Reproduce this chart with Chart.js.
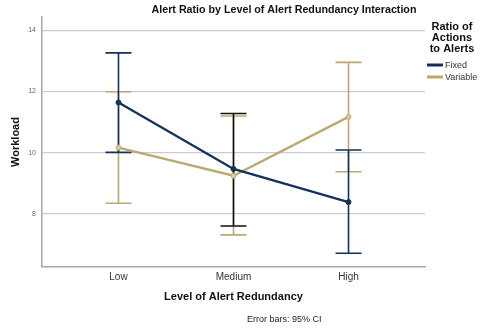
<!DOCTYPE html>
<html>
<head>
<meta charset="utf-8">
<script src="https://cdn.jsdelivr.net/npm/chart.js@4"></script>
<style>
  html, body { margin: 0; padding: 0; background: #fff; }
  #wrap { width: 480px; height: 330px; }
</style>
</head>
<body>
<div id="wrap"><canvas id="chart" width="480" height="330"></canvas></div>
<script>
var categories = ['Low', 'Medium', 'High'];
var yTicks = [8, 10, 12, 14];

var fixedMean = [11.64, 9.47, 8.39];
var fixedLow = [10.01, 7.61, 6.72];
var fixedHigh = [13.26, 11.28, 10.09];

var variableMean = [10.17, 9.25, 11.17];
var variableLow = [8.35, 7.32, 9.38];
var variableHigh = [11.99, 11.2, 12.95];

var NAVY = '#13315c';
var TAN = '#bba970';
var FONT = '"Liberation Sans", Arial, sans-serif';

function points(vals) {
    return vals.map(function(v, i) { return {x: i, y: v}; });
}

// 95% CI whiskers, drawn through the chart scales (under the mean lines)
var errorBars = {
    id: 'errorBars',
    beforeDatasetsDraw: function(chart) {
        var ctx = chart.ctx;
        var xs = chart.scales.x, ys = chart.scales.y;
        chart.data.datasets.slice().reverse().forEach(function(ds) {
            ds.data.forEach(function(p, i) {
                var x = xs.getPixelForValue(p.x);
                var y1 = ys.getPixelForValue(ds.ciLow[i]);
                var y2 = ys.getPixelForValue(ds.ciHigh[i]);
                ctx.save();
                ctx.strokeStyle = ds.barColors[i];
                ctx.lineWidth = 1.6;
                ctx.beginPath();
                ctx.moveTo(x, y1); ctx.lineTo(x, y2);
                ctx.moveTo(x - 13, y1); ctx.lineTo(x + 13, y1);
                ctx.moveTo(x - 13, y2); ctx.lineTo(x + 13, y2);
                ctx.stroke();
                ctx.restore();
            });
        });
    }
};

// title, legend and footnote
var texts = {
    id: 'texts',
    afterDraw: function(chart) {
        var ctx = chart.ctx;
        ctx.save();
        ctx.fillStyle = '#111';
        ctx.textBaseline = 'middle';
        ctx.textAlign = 'center';
        ctx.font = 'bold 10.7px ' + FONT;
        ctx.fillText('Alert Ratio by Level of Alert Redundancy Interaction', 284, 10);
        ctx.font = 'bold 11px ' + FONT;
        ['Ratio of', 'Actions', 'to Alerts'].forEach(function(t, i) {
            ctx.fillText(t, 452, 27 + i * 11);
        });
        ctx.textAlign = 'left';
        ctx.font = '9px ' + FONT;
        chart.data.datasets.forEach(function(ds, i) {
            var y = 65 + i * 12;
            ctx.strokeStyle = ds.borderColor;
            ctx.lineWidth = 3;
            ctx.beginPath();
            ctx.moveTo(427, y); ctx.lineTo(443, y);
            ctx.stroke();
            ctx.fillStyle = '#333';
            ctx.fillText(ds.label, 445, y + 0.5);
        });
        ctx.fillStyle = '#222';
        ctx.font = '9px ' + FONT;
        ctx.fillText('Error bars: 95% CI', 247, 320);
        ctx.restore();
    }
};

new Chart(document.getElementById('chart'), {
    type: 'scatter',
    data: {
        datasets: [{
            label: 'Fixed',
            data: points(fixedMean),
            ciLow: fixedLow,
            ciHigh: fixedHigh,
            barColors: [NAVY, '#111111', NAVY],
            showLine: true,
            borderColor: NAVY,
            backgroundColor: NAVY,
            borderWidth: 2.3,
            pointRadius: 2.5,
            pointBorderWidth: 1
        }, {
            label: 'Variable',
            data: points(variableMean),
            ciLow: variableLow,
            ciHigh: variableHigh,
            barColors: [TAN, TAN, TAN],
            showLine: true,
            borderColor: TAN,
            backgroundColor: '#d8cda4',
            borderWidth: 2.3,
            pointRadius: 2.5,
            pointBorderWidth: 1
        }]
    },
    options: {
        responsive: false,
        animation: false,
        layout: { padding: { top: 17, right: 55, bottom: 0, left: 0 } },
        plugins: {
            legend: { display: false },
            tooltip: { enabled: false }
        },
        scales: {
            x: {
                type: 'linear',
                min: -0.665,
                max: 2.665,
                afterBuildTicks: function(scale) {
                    scale.ticks = categories.map(function(c, i) { return {value: i}; });
                },
                afterFit: function(scale) { scale.height = 63; },
                grid: { display: false, drawTicks: false },
                border: { display: true, color: '#a8a8a8', width: 1.5 },
                ticks: {
                    padding: 4,
                    color: '#333',
                    font: { family: FONT, size: 10 },
                    callback: function(value) { return categories[value]; }
                },
                title: {
                    display: true,
                    text: 'Level of Alert Redundancy',
                    color: '#111',
                    font: { family: FONT, size: 11, weight: 'bold' },
                    padding: { top: 0, bottom: 26 }
                }
            },
            y: {
                min: 6.27,
                max: 14.43,
                afterBuildTicks: function(scale) {
                    scale.ticks = yTicks.map(function(v) { return {value: v}; });
                },
                afterFit: function(scale) { scale.width = 42; },
                grid: { color: '#cdcdcd', lineWidth: 1.2, drawTicks: false },
                border: { display: true, color: '#a8a8a8', width: 1.5 },
                ticks: {
                    padding: 6,
                    color: '#666',
                    font: { family: FONT, size: 7 }
                },
                title: {
                    display: true,
                    text: 'Workload',
                    color: '#111',
                    font: { family: FONT, size: 11, weight: 'bold' },
                    padding: { top: 9, bottom: 0 }
                }
            }
        }
    },
    plugins: [errorBars, texts]
});
</script>
</body>
</html>
